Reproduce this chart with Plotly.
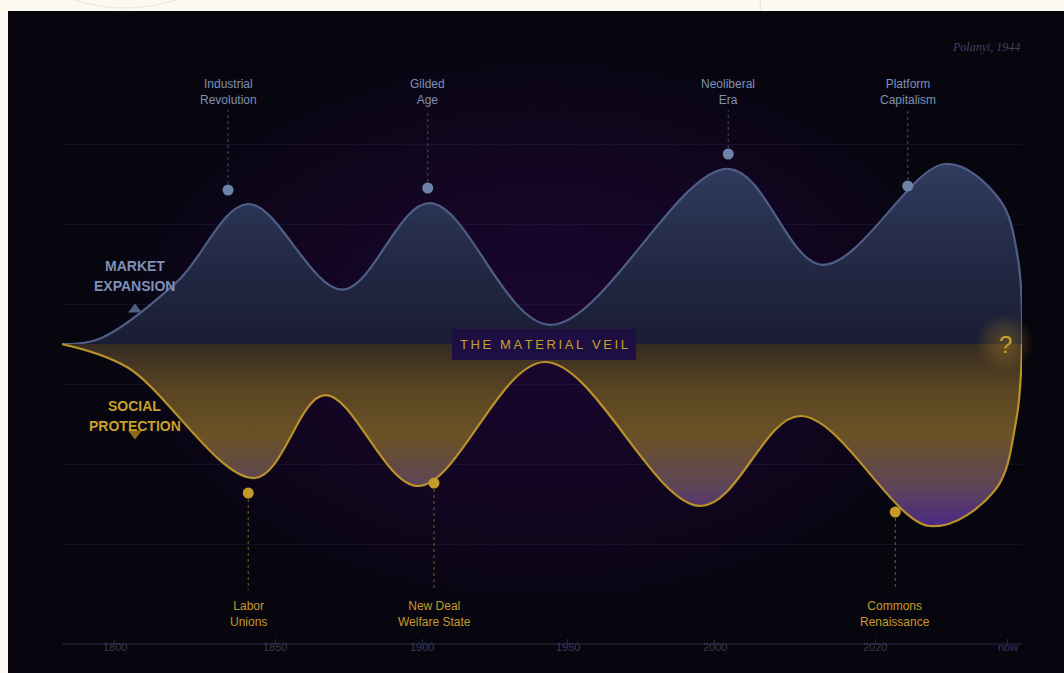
import plotly.graph_objects as go

# ---------------- data ----------------
# timeline position (0 = start of record, 100 = now)
tick_pos = [5.5, 22.2, 37.5, 52.7, 68.0, 84.7, 98.5]
tick_labels = ["1800", "1850", "1900", "1950", "2000", "2020", "now"]

market_x = [0, 4.0, 12.0, 19.4, 29.2, 38.3, 50.8, 69.4, 79.2, 92.0, 97.7, 99.6, 100]
market_y = [0, 0.07, 0.78, 1.75, 0.68, 1.76, 0.24, 2.19, 0.99, 2.25, 1.80, 1.05, 0]

social_x = [0, 6.8, 20.1, 27.4, 37.1, 50.3, 66.5, 76.9, 90.4, 97.2, 99.4, 100]
social_y = [0, -0.29, -1.675, -0.64, -1.775, -0.225, -2.025, -0.90, -2.275, -1.825, -0.95, 0]

up_events = ["Industrial<br>Revolution", "Gilded<br>Age", "Neoliberal<br>Era", "Platform<br>Capitalism"]
up_event_x = [17.3, 38.1, 69.4, 88.1]
up_event_y = [1.925, 1.95, 2.375, 1.975]

down_events = ["Labor<br>Unions", "New Deal<br>Welfare State", "Commons<br>Renaissance"]
down_event_x = [19.4, 38.75, 86.8]
down_event_y = [-1.8625, -1.7375, -2.1]

grid_vals = [-2.5, -1.5, -0.5, 0.5, 1.5, 2.5]

# ---------------- style ----------------
W, H = 1064, 673
ML, MR, MT, MB = 62, 42, 44, 29
PW, PH = W - ML - MR, H - MT - MB
UP_LINE = "#4e5e86"
UP_DOT = "#6d83a8"
UP_TEXT = "#7e90b6"
GOLD = "#b8912a"
GOLD_TEXT = "#c49a2a"
FONT = "Liberation Sans, Arial, sans-serif"

LABEL_UP_Y = 3.15
LABEL_DOWN_Y = -3.375
LEADER_UP_TOP = 2.925
LEADER_DOWN_BOT = -3.075


def px(X):
    return (X - ML) / PW


def py(Y):
    return (H - MB - Y) / PH


fig = go.Figure()

# market expansion area
fig.add_trace(go.Scatter(
    x=market_x, y=market_y, mode="lines",
    line=dict(color=UP_LINE, width=2.2, shape="spline", smoothing=1.0),
    fill="tozeroy",
    fillgradient=dict(type="vertical", start=0, stop=2.3,
                      colorscale=[[0, "#1a1c33"], [0.5, "#242b47"], [1, "#303c60"]]),
    hoverinfo="skip", showlegend=False))

# social protection area
fig.add_trace(go.Scatter(
    x=social_x, y=social_y, mode="lines",
    line=dict(color=GOLD, width=2.2, shape="spline", smoothing=1.0),
    fill="tozeroy",
    fillgradient=dict(type="vertical", start=-2.3, stop=0,
                      colorscale=[[0, "#4a2688"], [0.22, "#5e4458"], [0.5, "#6a5226"],
                                  [0.75, "#5a4522"], [1, "#352b24"]]),
    hoverinfo="skip", showlegend=False))

# leader lines
for x, y in zip(up_event_x, up_event_y):
    fig.add_trace(go.Scatter(x=[x, x], y=[y, LEADER_UP_TOP], mode="lines",
                             line=dict(color="rgba(109,131,168,0.55)", width=1, dash="3px,3px"),
                             hoverinfo="skip", showlegend=False))
for x, y in zip(down_event_x, down_event_y):
    fig.add_trace(go.Scatter(x=[x, x], y=[y, LEADER_DOWN_BOT], mode="lines",
                             line=dict(color="rgba(194,154,42,0.6)", width=1, dash="3px,3px"),
                             hoverinfo="skip", showlegend=False))

# event dots
fig.add_trace(go.Scatter(x=up_event_x, y=up_event_y, mode="markers",
                         marker=dict(size=11, color=UP_DOT, line=dict(width=0)),
                         hoverinfo="skip", showlegend=False))
fig.add_trace(go.Scatter(x=down_event_x, y=down_event_y, mode="markers",
                         marker=dict(size=11, color=GOLD_TEXT, line=dict(width=0)),
                         hoverinfo="skip", showlegend=False))

# direction triangles
fig.add_trace(go.Scatter(x=[7.6], y=[0.43], mode="markers",
                         marker=dict(symbol="triangle-up", size=12, color="#4f6085"),
                         hoverinfo="skip", showlegend=False))
fig.add_trace(go.Scatter(x=[7.6], y=[-1.12], mode="markers",
                         marker=dict(symbol="triangle-down", size=12, color="#8a6b1c"),
                         hoverinfo="skip", showlegend=False))

# ---------------- decorations ----------------
shapes = []
# faint arcs on cream paper
shapes.append(dict(type="circle", xref="paper", yref="paper", layer="below",
                   x0=px(-40), x1=px(290), y0=py(8), y1=py(-322),
                   line=dict(color="#ece6dc", width=1.2), fillcolor="rgba(0,0,0,0)"))
shapes.append(dict(type="circle", xref="paper", yref="paper", layer="below",
                   x0=px(760), x1=px(1560), y0=py(420), y1=py(-380),
                   line=dict(color="#ece6dc", width=1.2), fillcolor="rgba(0,0,0,0)"))
# dark panel
shapes.append(dict(type="rect", xref="paper", yref="paper", layer="below",
                   x0=px(8), x1=px(1070), y0=py(680), y1=py(11),
                   fillcolor="#07060f", line=dict(width=0)))
# central purple glow
cx, cy = 545, 330
for i in range(12):
    r = 380 - i * 27
    shapes.append(dict(type="circle", xref="paper", yref="paper", layer="below",
                       x0=px(cx - r * 1.15), x1=px(cx + r * 1.15), y0=py(cy + r * 0.75), y1=py(cy - r * 0.75),
                       fillcolor="rgba(40,14,80,0.065)", line=dict(width=0)))
# glow around question mark
qx, qy = 1005, 343
for i in range(8):
    r = 28 - i * 3.0
    shapes.append(dict(type="circle", xref="paper", yref="paper", layer="above",
                       x0=px(qx - r), x1=px(qx + r), y0=py(qy + r), y1=py(qy - r),
                       fillcolor="rgba(200,160,40,0.045)", line=dict(width=0)))
# x axis line
shapes.append(dict(type="line", xref="paper", yref="paper", layer="above",
                   x0=0, x1=1, y0=0, y1=0, line=dict(color="#2a2846", width=1.2)))

annotations = []
for t, x in zip(up_events, up_event_x):
    annotations.append(dict(x=x, y=LABEL_UP_Y, text=t, showarrow=False,
                            font=dict(family=FONT, size=12, color=UP_TEXT)))
for t, x in zip(down_events, down_event_x):
    annotations.append(dict(x=x, y=LABEL_DOWN_Y, text=t, showarrow=False,
                            font=dict(family=FONT, size=12, color=GOLD_TEXT)))
for t, x in zip(tick_labels, tick_pos):
    annotations.append(dict(x=x, y=0, yref="paper", yanchor="middle", yshift=-3, text=t,
                            showarrow=False, font=dict(family=FONT, size=11, color="#3a385a")))

for t, y in [("MARKET", 0.975), ("EXPANSION", 0.725)]:
    annotations.append(dict(x=7.6, y=y, text="<b>%s</b>" % t, showarrow=False,
                            font=dict(family=FONT, size=14, color=UP_TEXT)))
for t, y in [("SOCIAL", -0.775), ("PROTECTION", -1.025)]:
    annotations.append(dict(x=7.6, y=y, text="<b>%s</b>" % t, showarrow=False,
                            font=dict(family=FONT, size=14, color="#c9a02a")))
veil = "\u2009".join("THE MATERIAL VEIL")
annotations.append(dict(x=50.2, y=0, text=veil, showarrow=False,
                        bgcolor="#1d0f42", borderpad=8, borderwidth=0,
                        font=dict(family=FONT, size=13, color="#c9a030")))
annotations.append(dict(x=px(qx), xref="paper", xanchor="center", y=0, text="?", showarrow=False,
                        font=dict(family=FONT, size=24, color="#c9a02a")))
annotations.append(dict(x=px(1022), xref="paper", xanchor="right", y=py(47), yref="paper",
                        yanchor="middle", text="<i>Polanyi, 1944</i>", showarrow=False,
                        font=dict(family="Liberation Serif, DejaVu Serif, serif", size=12, color="#45425f")))

fig.update_layout(
    width=W, height=H,
    margin=dict(l=ML, r=MR, t=MT, b=MB),
    paper_bgcolor="#fdf8f1",
    plot_bgcolor="rgba(0,0,0,0)",
    shapes=shapes,
    annotations=annotations,
    hovermode=False,
    xaxis=dict(range=[0, 100], showgrid=False, zeroline=False, showline=False,
               tickvals=tick_pos, ticktext=[""] * len(tick_pos), ticks="inside", ticklen=5,
               tickcolor="#2a2846", tickwidth=1, fixedrange=True),
    yaxis=dict(range=[-3.75, 3.75], tickvals=grid_vals, showticklabels=False,
               gridcolor="rgba(70,55,110,0.22)", gridwidth=1, zeroline=False,
               showline=False, ticks="", fixedrange=True),
)

fig.write_html("out.html", config={"displayModeBar": False},
               post_script="document.body.style.margin='0';document.body.style.background='#fdf8f1';")
